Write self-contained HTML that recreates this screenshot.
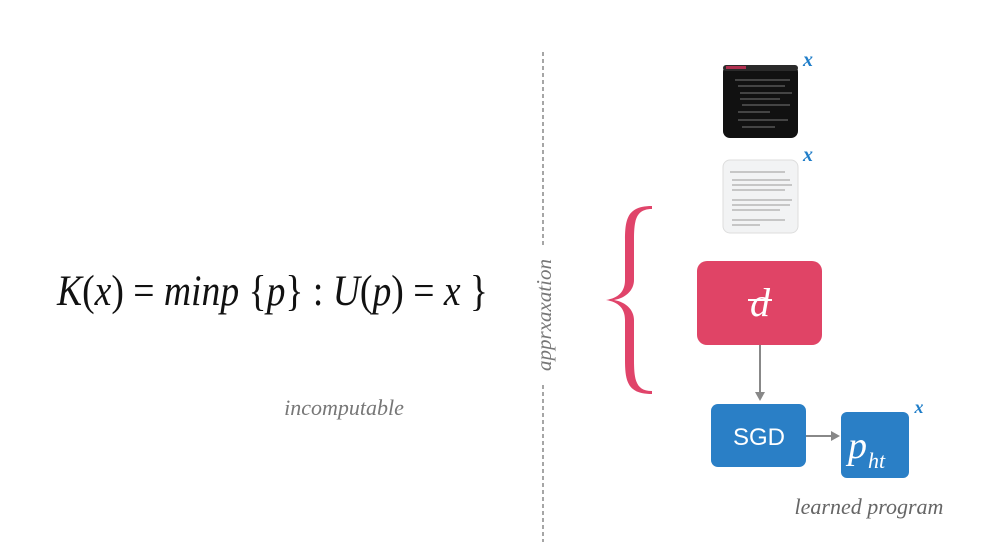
<!DOCTYPE html>
<html><head><meta charset="utf-8"><style>
html,body{margin:0;padding:0;background:#fff;}
svg{display:block}
</style></head><body>
<svg width="1001" height="545" viewBox="0 0 1001 545" xmlns="http://www.w3.org/2000/svg">
<rect width="1001" height="545" fill="#fff"/>
<!-- formula -->
<text x="57" y="305" textLength="431" lengthAdjust="spacingAndGlyphs" font-family="Liberation Serif, serif" font-size="43" fill="#111"><tspan font-style="italic">K</tspan>(<tspan font-style="italic">x</tspan>) = <tspan font-style="italic">minp</tspan> {<tspan font-style="italic">p</tspan>} : <tspan font-style="italic">U</tspan>(<tspan font-style="italic">p</tspan>) = <tspan font-style="italic">x</tspan>  }</text>
<text x="344" y="415" text-anchor="middle" font-family="Liberation Serif, serif" font-style="italic" font-size="22" fill="#777">incomputable</text>
<!-- dashed divider -->
<line x1="543" y1="52" x2="543" y2="246" stroke="#888" stroke-width="1.5" stroke-dasharray="4,3"/>
<line x1="543" y1="385" x2="543" y2="542" stroke="#888" stroke-width="1.5" stroke-dasharray="4,3"/>
<text transform="translate(551,315) rotate(-90)" text-anchor="middle" font-family="Liberation Serif, serif" font-style="italic" font-size="21" fill="#777">apprxaxation</text>
<!-- dark code card -->
<rect x="723" y="65" width="75" height="73" rx="7" fill="#111"/>
<rect x="723" y="65" width="75" height="6" rx="3" fill="#2a2a2a"/>
<rect x="726" y="66" width="20" height="3" fill="#b03050"/>
<g stroke="#777" stroke-width="1">
<line x1="735" y1="80" x2="790" y2="80"/><line x1="738" y1="86" x2="785" y2="86"/>
<line x1="740" y1="93" x2="792" y2="93"/><line x1="740" y1="99" x2="780" y2="99"/>
<line x1="742" y1="105" x2="790" y2="105"/><line x1="738" y1="112" x2="770" y2="112"/>
<line x1="738" y1="120" x2="788" y2="120"/><line x1="742" y1="127" x2="775" y2="127"/>
</g>
<!-- light doc card -->
<rect x="723" y="160" width="75" height="73" rx="7" fill="#f2f3f4" stroke="#ddd"/>
<g stroke="#999" stroke-width="1">
<line x1="730" y1="172" x2="785" y2="172"/><line x1="732" y1="180" x2="790" y2="180"/>
<line x1="732" y1="185" x2="792" y2="185"/><line x1="732" y1="190" x2="785" y2="190"/>
<line x1="732" y1="200" x2="792" y2="200"/><line x1="732" y1="205" x2="790" y2="205"/>
<line x1="732" y1="210" x2="780" y2="210"/><line x1="732" y1="220" x2="785" y2="220"/>
<line x1="732" y1="225" x2="760" y2="225"/>
</g>
<text x="808" y="66" font-family="Liberation Serif, serif" font-style="italic" font-weight="bold" font-size="20" fill="#1f7dc8" text-anchor="middle">x</text>
<text x="808" y="161" font-family="Liberation Serif, serif" font-style="italic" font-weight="bold" font-size="20" fill="#1f7dc8" text-anchor="middle">x</text>
<!-- brace -->
<path d="M652,206 C628,206 625,218 625,240 L625,280 C625,292 618,298 606,300 C618,302 625,308 625,320 L625,360 C625,382 628,394 652,394 L652,391 C636,391 634,380 634,360 L634,320 C634,310 626,302 614,300 C626,298 634,290 634,280 L634,240 C634,220 636,209 652,209 Z" fill="#e0446a"/>
<!-- red box -->
<rect x="697" y="261" width="125" height="84" rx="10" fill="#e04466"/>
<text x="760" y="316" text-anchor="middle" font-family="Liberation Serif, serif" font-style="italic" font-size="40" fill="#fff">d</text>
<line x1="748" y1="300" x2="772" y2="300" stroke="#fff" stroke-width="2"/>
<!-- arrows -->
<line x1="760" y1="345" x2="760" y2="393" stroke="#888" stroke-width="2"/>
<polygon points="755,392 765,392 760,401" fill="#888"/>
<line x1="806" y1="436" x2="832" y2="436" stroke="#888" stroke-width="2"/>
<polygon points="831,431 831,441 840,436" fill="#888"/>
<!-- SGD -->
<rect x="711" y="404" width="95" height="63" rx="7" fill="#2a7fc6"/>
<text x="759" y="445" text-anchor="middle" font-family="Liberation Sans, sans-serif" font-size="24" fill="#fff">SGD</text>
<!-- p_ht -->
<rect x="841" y="412" width="68" height="66" rx="6" fill="#2a7fc6"/>
<text x="848" y="458" font-family="Liberation Serif, serif" font-style="italic" font-size="38" fill="#fff">p</text>
<text x="868" y="468" font-family="Liberation Serif, serif" font-style="italic" font-size="22" fill="#fff">ht</text>
<text x="919" y="413" text-anchor="middle" font-family="Liberation Serif, serif" font-style="italic" font-weight="bold" font-size="18" fill="#1f7dc8">x</text>
<text x="869" y="514" text-anchor="middle" font-family="Liberation Serif, serif" font-style="italic" font-size="22" fill="#666">learned program</text>
</svg>
</body></html>
